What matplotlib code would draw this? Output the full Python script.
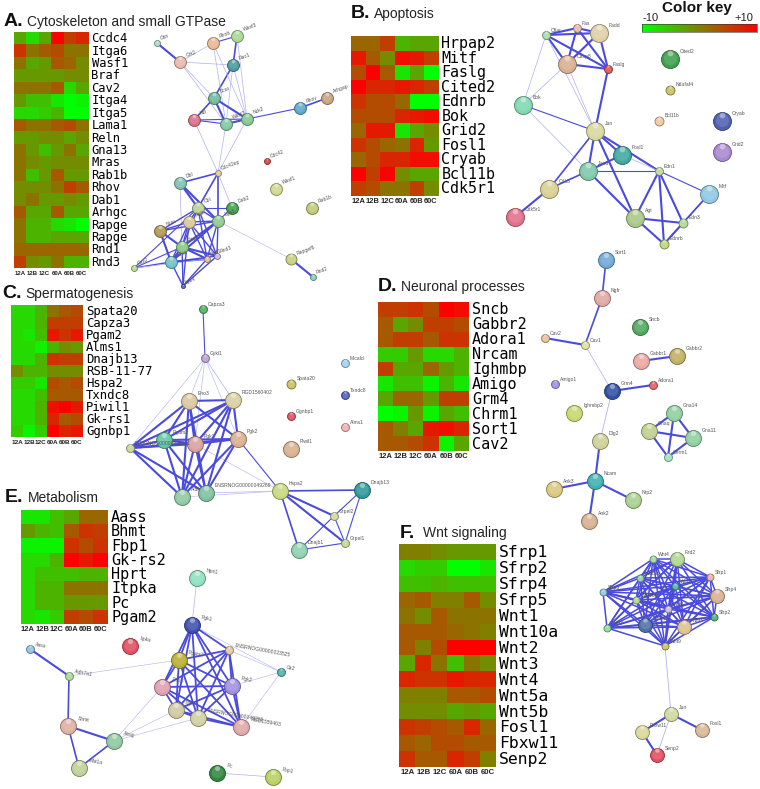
#!/usr/bin/env python3
import numpy as np
import matplotlib
matplotlib.use("Agg")
import matplotlib.pyplot as plt
from matplotlib.colors import LinearSegmentedColormap, to_rgb
from itertools import combinations

samples = ["12A", "12B", "12C", "60A", "60B", "60C"]

# heatmaps: log2-ish expression
genes_a = ["Ccdc4", "Itga6", "Wasf1", "Braf", "Cav2", "Itga4", "Itga5", "Lama1", "Reln", "Gna13",
           "Mras", "Rab1b", "Rhov", "Dab1", "Arhgc", "Rapge", "Rapge", "Rnd1", "Rnd3"]
heat_a = [[-3, -7, -3, 10, 5, 7], [6, 1, 3, 4, 1, 1], [1, -3, -2, 3, 2, -1], [-2, -2, -2, -2, -1, -1],
          [1, 1, 1, 3, -7, -3], [-2, -5, -5, -8, -10, -9], [-7, -7, -6, -4, -10, -10], [3, 1, 1, 3, 4, 1],
          [-2, -2, -1, -1, -3, -1], [1, -2, -5, -2, 1, -3], [1, -1, -2, -1, -1, -1], [1, -5, -2, 3, -2, -2],
          [-1, -1, -1, 1, 5, 3], [-1, 1, -2, -2, -1, -2], [3, -3, -3, 3, -3, -3], [1, -4, -4, -7, -8, -10],
          [1, -4, -4, -3, -3, -3], [2, 2, 2, 2, 2, 2], [5, -1, -2, 1, -4, -4]]

genes_b = ["Hrpap2", "Mitf", "Faslg", "Cited2", "Ednrb", "Bok", "Grid2", "Fosl1", "Cryab", "Bcl11b", "Cdk5r1"]
heat_b = [[2, 2, 5, -4, -3, -3], [8, 3, -1, 9, 8, 5], [4, 10, 3, -8, -3, -10], [10, 7, 7, 8, 7, 5],
          [6, 4, 4, 2, -10, -10], [4, 4, 4, 7, 8, 9], [2, 8, 8, -8, -3, -1], [6, 4, 2, 1, 7, -2],
          [2, 4, 7, 7, 9, 9], [10, 5, 10, -1, -3, -3], [5, 4, 1, 1, 5, -1]]

genes_c = ["Spata20", "Capza3", "Pgam2", "Alms1", "Dnajb13", "RSB-11-77", "Hspa2", "Txndc8", "Piwil1", "Gk-rs1", "Ggnbp1"]
heat_c = [[-7, -7, -4, 1, 3, 4], [-7, -7, -4, 5, 5, 5], [-7, -8, -5, 8, 6, 8], [-7, -7, -9, -4, -1, -2],
          [-7, -7, -4, 6, 5, 5], [-1, -4, -4, -1, -1, -1], [-6, -6, -8, 4, 3, 4], [-7, -7, -5, 3, 3, 3],
          [-7, -7, -4, 9, 10, 8], [-7, -7, -4, 7, 3, 4], [-6, -9, -6, 10, 7, 8]]

genes_d = ["Sncb", "Gabbr2", "Adora1", "Nrcam", "Ighmbp", "Amigo", "Grm4", "Chrm1", "Sort1", "Cav2"]
heat_d = [[5, 5, 6, 4, 10, 9], [3, -3, -1, 5, 5, 4], [3, 5, 5, 3, 6, 6], [-6, -6, -2, -7, -7, -4],
          [5, -3, -3, 2, -2, -4], [-8, -5, -5, -9, -4, -8], [-3, 2, 2, -2, 5, 5], [-10, -9, -2, -9, -3, -5],
          [3, 0, -3, 8, 9, 7], [3, 3, 4, 6, -9, -3]]

genes_e = ["Aass", "Bhmt", "Fbp1", "Gk-rs2", "Hprt", "Itpka", "Pc", "Pgam2"]
heat_e = [[-8, -8, -5, -3, 2, 2], [-2, -4, -5, 3, 6, 5], [-9, -9, -9, 6, 4, 6], [-7, -7, -4, 10, 8, 10],
          [-7, -5, -5, -5, -4, -4], [-7, -4, -4, 1, 1, 1], [-7, -4, -4, -2, -2, -2], [-7, -8, -6, 5, 4, 6]]

genes_f = ["Sfrp1", "Sfrp2", "Sfrp4", "Sfrp5", "Wnt1", "Wnt10a", "Wnt2", "Wnt3", "Wnt4", "Wnt5a", "Wnt5b",
           "Fosl1", "Fbxw11", "Senp2"]
heat_f = [[0, 0, -1, -2, -2, -2], [-7, -6, -6, -10, -10, -8], [-5, -5, -4, -5, -5, -5], [2, 3, 0, 0, 3, -1],
          [1, -1, 3, 1, 1, 1], [3, 3, 3, 2, 1, 0], [3, 0, 4, 10, 10, 10], [-3, 7, 1, -5, 1, -1],
          [7, 6, 6, 8, 7, 7], [0, 0, 0, 3, 3, 4], [-1, -1, -1, -3, -2, -3], [6, 5, 4, 3, 7, 2],
          [3, 2, 4, 4, 3, 3], [6, 3, 3, 7, 5, 0]]

# networks: name, x, y, radius (px), colour
net_a = [("Cttn", 157, 43, 3, "#a8dcc8"), ("Crk2", 180, 62, 6, "#e8b8a8"), ("Rhob", 213, 43, 6, "#eab890"),
         ("Wasf3", 237, 36, 6, "#a8d890"), ("Rac1", 233, 65, 6, "#4a9aa0"), ("Bcar", 214, 98, 6, "#70b8a0"),
         ("Ncl", 194, 120, 6, "#d87088"), ("Wasf2", 226, 124, 6, "#80c8a0"), ("Nck2", 247, 119, 6, "#80c890"),
         ("Rhov", 300, 108, 6, "#60a8c8"), ("Arhgap", 327, 98, 6, "#c8a080"), ("Cdc42", 267, 161, 3, "#d84040"),
         ("Cdc42ep", 218, 173, 3, "#e0c890"), ("Dbl", 180, 183, 6, "#80c0b0"), ("Wasf1", 276, 189, 6, "#d0d890"),
         ("Rab1b", 312, 208, 6, "#c0c878"), ("Dab2", 232, 208, 6, "#40a050"), ("Cbl", 198, 208, 6, "#b8d098"),
         ("Reln", 189, 222, 6, "#d8c898"), ("Itga5", 218, 221, 6, "#90c890"), ("Nras", 160, 231, 6, "#b09850"),
         ("Rap1", 182, 247, 6, "#88c880"), ("Mras", 171, 262, 6, "#70c0c8"), ("Cav2", 134, 268, 3, "#b8d888"),
         ("Rnd1", 207, 259, 3, "#e0c098"), ("Rnd3", 217, 256, 3, "#c8b8e0"), ("Rapgef6", 291, 259, 5.5, "#c8cf80"),
         ("Rnd2", 313, 277, 3, "#80d0c0"), ("Itga4", 183, 286, 2, "#5060c0")]
edges_a = [("Cttn", "Crk2", 1.5), ("Crk2", "Rhob", .5), ("Rhob", "Wasf3", .8), ("Wasf3", "Rac1", 1.2),
           ("Crk2", "Rac1", .5), ("Rac1", "Bcar", 1.2), ("Crk2", "Bcar", .5), ("Crk2", "Wasf2", .5),
           ("Rhob", "Wasf2", .5), ("Rhob", "Nck2", .5), ("Wasf3", "Nck2", .5), ("Rac1", "Wasf2", .5),
           ("Rac1", "Nck2", .5), ("Bcar", "Ncl", 1.2), ("Bcar", "Wasf2", 1.5), ("Bcar", "Nck2", 1.5),
           ("Ncl", "Wasf2", .8), ("Ncl", "Nck2", .8), ("Wasf2", "Nck2", 1.5), ("Nck2", "Rhov", .8),
           ("Rhov", "Arhgap", 1.2), ("Ncl", "Cdc42ep", .5), ("Wasf2", "Cdc42ep", .5), ("Nck2", "Cdc42ep", .5),
           ("Cdc42ep", "Dbl", 1.2), ("Cdc42ep", "Cbl", 1.2), ("Cdc42ep", "Itga5", 1.2), ("Cdc42ep", "Dab2", .5),
           ("Dbl", "Cbl", 1.5), ("Dbl", "Itga5", 1.5), ("Dbl", "Rap1", .5), ("Cbl", "Dab2", .8),
           ("Cbl", "Itga5", 1), ("Cbl", "Reln", 1), ("Cbl", "Nras", 1), ("Cbl", "Rap1", 1), ("Cbl", "Rnd1", 1),
           ("Cbl", "Rnd3", 1), ("Reln", "Itga5", 1), ("Reln", "Nras", 1), ("Reln", "Rap1", 1), ("Reln", "Mras", 1),
           ("Reln", "Rnd1", 1), ("Reln", "Rnd3", 1), ("Dab2", "Itga5", .8), ("Itga5", "Nras", 1), ("Itga5", "Rap1", 1.5),
           ("Itga5", "Mras", 1.5), ("Itga5", "Rnd1", 1), ("Itga5", "Rnd3", 1), ("Nras", "Rap1", 1.5), ("Nras", "Mras", 1.5),
           ("Rap1", "Mras", 1.5), ("Rap1", "Rnd1", 1.5), ("Rap1", "Rnd3", 1.5), ("Mras", "Rnd1", 1.5), ("Mras", "Rnd3", 1),
           ("Cav2", "Mras", 1), ("Cav2", "Rap1", .8), ("Cav2", "Cbl", .8), ("Cav2", "Rnd1", .5),
           ("Itga4", "Rap1", 1), ("Itga4", "Mras", 1), ("Itga4", "Rnd1", 1), ("Itga4", "Rnd3", 1), ("Itga4", "Reln", 1),
           ("Itga5", "Rapgef6", .4), ("Rapgef6", "Rnd2", 1.5)]

net_b = [("Cflar", 546, 35, 4, "#a8dcb0"), ("Fas", 577, 28, 4, "#e8b8a8"), ("Fadd", 599, 33, 9, "#e0d0a8"),
         ("Casp8", 567, 64, 9, "#d8b090"), ("Faslg", 608, 69, 4, "#e05050"), ("Cited2", 670, 59, 9, "#40a050"),
         ("Ndufaf4", 670, 90, 4.5, "#c8c060"), ("Bcl11b", 659, 121, 4.5, "#f0c8a0"), ("Bok", 523, 105, 9, "#80d8b0"),
         ("Jun", 595, 131, 9, "#d8d8a0"), ("Fosl1", 622, 155, 9, "#40a8a0"), ("Cryab", 722, 121, 9, "#5060b0"),
         ("Grid2", 722, 152, 9, "#a888d0"), ("Jund", 588, 171, 9, "#80c8a8"), ("Edn1", 659, 171, 4, "#c0d8a0"),
         ("Cdk5", 549, 189, 9, "#d8d090"), ("Mitf", 709, 194, 9, "#90c8e0"), ("Cdk5r1", 515, 217, 9, "#e07088"),
         ("Agt", 635, 218, 9, "#a8c888"), ("Edn3", 683, 223, 4.5, "#b0d890"), ("Ednrb", 664, 244, 4.5, "#b8d878")]
edges_b = [("Cflar", "Fas", 1.5), ("Cflar", "Fadd", 1.5), ("Cflar", "Casp8", 1.5), ("Cflar", "Faslg", 1.5),
           ("Fas", "Fadd", 1.5), ("Fas", "Casp8", 1.5), ("Fas", "Faslg", 1.5), ("Fadd", "Casp8", 1.5),
           ("Fadd", "Faslg", 1.5), ("Casp8", "Faslg", 1.5), ("Faslg", "Jun", 1.5), ("Cflar", "Bok", .5),
           ("Casp8", "Bok", .5), ("Casp8", "Jun", .5), ("Cflar", "Jun", .5), ("Bok", "Jun", .8), ("Bok", "Jund", .5),
           ("Jun", "Fosl1", 1.5), ("Jun", "Jund", 1.5), ("Jun", "Cdk5", 1.2), ("Jun", "Edn1", 1.5), ("Jun", "Agt", 1.5),
           ("Fosl1", "Jund", 1.5), ("Fosl1", "Edn1", .5), ("Jund", "Edn1", .8), ("Jund", "Cdk5", 1.2), ("Jund", "Agt", 1.5),
           ("Cdk5", "Cdk5r1", 1.5), ("Edn1", "Mitf", .8), ("Edn1", "Agt", 1.5), ("Edn1", "Edn3", 1.5), ("Edn1", "Ednrb", 1.5),
           ("Mitf", "Edn3", 1.2), ("Mitf", "Ednrb", .8), ("Agt", "Edn3", 1.5), ("Agt", "Ednrb", 1.5), ("Edn3", "Ednrb", 1.5)]

net_c = [("Capza3", 203, 309, 4, "#50b060"), ("Gykl1", 205, 358, 4, "#b8a0d8"), ("Eno3", 189, 401, 8, "#d8c8a0"),
         ("RGD1560402", 233, 400, 8, "#d8d0a0"), ("Pgam2", 164, 440, 8, "#60c8a0"), ("Pgk1", 195, 444, 8, "#d8a0a0"),
         ("Pgk2", 238, 439, 8, "#d8b090"), ("ENSRNOG00000027311", 130, 448, 4, "#c8d898"), ("Aldh", 182, 497, 8, "#90c8a0"),
         ("ENSRNOG00000049269", 206, 493, 8, "#80c0a0"), ("Hspa2", 280, 491, 8, "#c8d880"), ("Dnajb13", 362, 490, 8, "#309898"),
         ("Grpel2", 334, 516, 4, "#d0d898"), ("Grpel1", 345, 543, 4, "#c0d890"), ("Dnajb1", 299, 550, 8, "#90d0b0"),
         ("Spata20", 291, 384, 4.5, "#c8c060"), ("Ggnbp1", 291, 416, 4, "#e05060"), ("Piwil1", 291, 449, 8, "#d8b090"),
         ("Micalcl", 345, 363, 4, "#a0d0f0"), ("Txndc8", 345, 395, 4, "#5060c0"), ("Alms1", 345, 427, 4, "#f0b0b0")]
hub_c = ["Eno3", "RGD1560402", "Pgam2", "Pgk1", "Pgk2", "ENSRNOG00000027311", "Aldh", "ENSRNOG00000049269"]
edges_c = [("Capza3", "Gykl1", .8), ("Gykl1", "RGD1560402", .5), ("Gykl1", "Eno3", .4), ("Gykl1", "Pgk1", .4),
           ("Gykl1", "ENSRNOG00000027311", .4), ("Gykl1", "Pgk2", .4), ("Pgk2", "Hspa2", .8), ("Pgk1", "Hspa2", .4),
           ("ENSRNOG00000049269", "Hspa2", .5), ("Aldh", "Hspa2", .4), ("Hspa2", "Dnajb13", 1.2), ("Hspa2", "Grpel2", 1.5),
           ("Hspa2", "Grpel1", 1.5), ("Hspa2", "Dnajb1", 1.2), ("Dnajb13", "Grpel2", .8), ("Dnajb13", "Grpel1", .8),
           ("Grpel2", "Grpel1", .8), ("Grpel2", "Dnajb1", .8), ("Grpel1", "Dnajb1", .8)]
edges_c += [(a, b, 1.5) for a, b in combinations(hub_c, 2) if {a, b} != {"Aldh", "ENSRNOG00000049269"}]

net_d = [("Sort1", 606, 260, 8, "#70a8d8"), ("Ngfr", 602, 298, 8, "#e0a8a0"), ("Sncb", 640, 327, 8, "#50a860"),
         ("Cav2", 545, 338, 4, "#e8c090"), ("Cav1", 585, 345, 4, "#e0e0a0"), ("Gabbr1", 641, 361, 8, "#e8a8a0"),
         ("Gabbr2", 677, 356, 8, "#c0b060"), ("Amigo1", 555, 384, 4, "#a090e0"), ("Grm4", 612, 391, 8, "#3050a0"),
         ("Adora1", 653, 385, 4, "#e06060"), ("Ighmbp2", 574, 413, 8, "#c8d870"), ("Gna14", 674, 413, 8, "#90d0a0"),
         ("Gnaq", 649, 431, 8, "#c0d090"), ("Gna11", 693, 438, 8, "#90d0a0"), ("Chrm1", 668, 457, 4, "#a0e0c0"),
         ("Dlg2", 600, 441, 8, "#d0d098"), ("Ncam", 595, 481, 8, "#40b0b0"), ("Ank3", 554, 489, 8, "#d8c880"),
         ("Nrp2", 633, 500, 8, "#a8d090"), ("Ank2", 589, 521, 8, "#d8b090")]
edges_d = [("Sort1", "Ngfr", 1.2), ("Ngfr", "Cav1", 1.2), ("Cav1", "Cav2", 1.5), ("Cav1", "Grm4", .5),
           ("Grm4", "Adora1", 1.5), ("Grm4", "Dlg2", .6), ("Dlg2", "Ncam", 1.5), ("Ncam", "Ank3", 1.5),
           ("Ncam", "Nrp2", 1.5), ("Ncam", "Ank2", 1.5), ("Gabbr1", "Gabbr2", 1.5), ("Gna14", "Gnaq", 1.5),
           ("Gna14", "Gna11", 1.5), ("Gna14", "Chrm1", 1.5), ("Gnaq", "Gna11", 1.5), ("Gnaq", "Chrm1", 1.5),
           ("Gna11", "Chrm1", 1.5)]

net_e = [("Hprt1", 197, 578, 8, "#90e0c0"), ("Pgk1", 192, 625, 8, "#4050b0"), ("Itpka", 130, 646, 8, "#e05060"),
         ("Aass", 30, 649, 4, "#90c0e0"), ("Aldh7a1", 69, 676, 4, "#a8d890"), ("Pgam2", 179, 660, 8, "#b8b030"),
         ("ENSRNOG00000023525", 229, 650, 4, "#e8c8a0"), ("Gk2", 281, 672, 4, "#50b0b0"), ("Eno3", 162, 687, 8, "#e0a0b0"),
         ("Pgk2", 232, 686, 8, "#a090e0"), ("Bhmt", 68, 726, 8, "#e0b0a0"), ("Ahsg", 114, 741, 8, "#90c8a0"),
         ("Mat1a", 79, 768, 8, "#c0d098"), ("Pgls", 176, 710, 8, "#d0c8a0"), ("ENSRNOG00000049269", 198, 718, 8, "#d0d0a0"),
         ("RGD1559403", 241, 727, 8, "#e0a8a8"), ("Pc", 217, 773, 8, "#308840"), ("Fbp1", 273, 777, 8, "#b8d060")]
hub_e = ["Pgk1", "Pgam2", "ENSRNOG00000023525", "Eno3", "Pgk2", "Pgls", "ENSRNOG00000049269", "RGD1559403"]
edges_e = [("Hprt1", "Pgk1", .5), ("Aass", "Aldh7a1", 1.5), ("Aldh7a1", "Pgam2", .4), ("Aldh7a1", "Bhmt", 1.2),
           ("Bhmt", "Ahsg", 1.5), ("Bhmt", "Mat1a", 1.2), ("Ahsg", "Mat1a", 1.2), ("Ahsg", "Eno3", .4),
           ("Ahsg", "Pgls", .4), ("Ahsg", "ENSRNOG00000049269", .4), ("ENSRNOG00000023525", "Gk2", .4),
           ("Pgk1", "Gk2", .4), ("Pgk2", "Gk2", .4), ("RGD1559403", "Gk2", .4), ("Pc", "Fbp1", .5)]
edges_e += [(a, b, 1.3) for a, b in combinations(hub_e, 2)]

net_f = [("Wnt4", 653, 559, 3.5, "#a0d8a0"), ("Fzd2", 677, 559, 7, "#b0d890"), ("Sfrp1", 710, 577, 3.5, "#e8b0a0"),
         ("Sfrp4", 717, 596, 7, "#d8b090"), ("Sfrp2", 714, 617, 3.5, "#50b070"), ("Wnt5a", 640, 578, 3.5, "#90d0b0"),
         ("Sfrp5", 603, 592, 3.5, "#90c8e0"), ("Wnt2", 675, 586, 3.5, "#50b0b0"), ("Wnt10a", 636, 600, 3.5, "#b0d890"),
         ("Wnt1", 668, 609, 3.5, "#c8b8e0"), ("Wnt5b", 645, 625, 7, "#5070a8"), ("Wnt3", 684, 627, 7, "#e0c090"),
         ("Wnt7", 607, 628, 3.5, "#90d8a0"), ("Wnt9", 665, 646, 3.5, "#c8c060"), ("Jun", 671, 714, 7, "#d0d8a0"),
         ("Fbxw11", 642, 732, 7, "#d8d898"), ("Fosl1", 702, 730, 7, "#d8b898"), ("Senp2", 657, 755, 7, "#e05060")]
hub_f = [n[0] for n in net_f[:14]]
edges_f = [("Wnt9", "Jun", .6), ("Jun", "Fbxw11", 1.5), ("Jun", "Fosl1", 1.5), ("Jun", "Senp2", .6), ("Fbxw11", "Senp2", 1.5)]
edges_f += [(a, b, 1.1) for a, b in combinations(hub_f, 2)]

cmap = LinearSegmentedColormap.from_list("key", ["#00ff00", "#808000", "#ff0000"])

fig = plt.figure(figsize=(7.6, 7.89), dpi=100)
ax = fig.add_axes([0, 0, 1, 1])
ax.axis("off")
plt.rcParams["font.family"] = ["Liberation Sans", "DejaVu Sans"]


def heatmap(genes, vals, x0, x1, y0, y1, gene_size, tick_size):
    ax.imshow(np.array(vals, float), cmap=cmap, vmin=-10, vmax=10, extent=(x0, x1, y1, y0),
              aspect="auto", interpolation="nearest", zorder=2)
    dy = (y1 - y0) / len(genes)
    for i, g in enumerate(genes):
        ax.text(x1 + 3.5, y0 + dy * (i + .5) + .5, g, family="DejaVu Sans Mono", fontsize=gene_size,
                va="center", ha="left", color="black", zorder=5)
    dx = (x1 - x0) / 6
    for i, s in enumerate(samples):
        ax.text(x0 + dx * (i + .5), y1 + 5.5, s, fontsize=tick_size, weight="bold", ha="center", va="center",
                color="#222222", zorder=5)


def network(nodes, edges, rot=0):
    pos = {n[0]: n[1:3] for n in nodes}
    for a, b, w in edges:
        col = "#4a4adc" if w >= .8 else "#b0b0f0"
        ax.plot([pos[a][0], pos[b][0]], [pos[a][1], pos[b][1]], color=col, lw=w, zorder=3, solid_capstyle="round")
    for name, x, y, r, c in nodes:
        d = 2 * r * .72
        dark = tuple(v * .62 for v in to_rgb(c))
        ax.scatter([x], [y], s=d ** 2, color=c, edgecolors=dark, linewidths=.6, zorder=4)
        ax.scatter([x], [y - r * .1], s=(d * .72) ** 2, color="white", alpha=.12, linewidths=0, zorder=4.1)
        ax.scatter([x], [y - r * .68], s=(d * .32) ** 2, color="white", alpha=.4, linewidths=0, zorder=4.2)
        ax.text(x + r + 1, y - r * .6, name, fontsize=3.6, color="#555555", rotation=rot,
                rotation_mode="anchor", ha="left", va="bottom", zorder=5)


heatmap(genes_a, heat_a, 13.7, 88, 32, 268, 8.7, 4.3)
heatmap(genes_b, heat_b, 350.7, 438, 36, 195.7, 10.8, 5.4)
heatmap(genes_c, heat_c, 11, 82.7, 305, 436.7, 8.8, 4.6)
heatmap(genes_d, heat_d, 378.3, 468.7, 302, 451, 10.9, 5.4)
heatmap(genes_e, heat_e, 20.7, 107.7, 510, 624, 10.9, 5.4)
heatmap(genes_f, heat_f, 399.3, 495.7, 544.3, 767.3, 11.8, 5.6)

network(net_a, edges_a, rot=20)
network(net_b, edges_b)
network(net_c, edges_c)
network(net_d, edges_d)
network(net_e, edges_e, rot=-10)
network(net_f, edges_f)

# panel titles
titles = [("A.", "Cytoskeleton and small GTPase", 4, 21), ("B.", "Apoptosis", 351, 13),
          ("C.", "Spermatogenesis", 2, 293), ("D.", "Neuronal processes", 378, 286),
          ("E.", "Metabolism", 5, 497), ("F.", "Wnt signaling", 400, 533)]
for letter, title, x, y in titles:
    ax.text(x, y, letter, fontsize=14, weight="bold", ha="left", va="center", color="#111111", zorder=6)
    ax.text(x + 23, y + .5, title, fontsize=10, ha="left", va="center", color="#222222", zorder=6)

# colour key
ax.imshow(np.linspace(-10, 10, 256).reshape(1, -1), cmap=cmap, vmin=-10, vmax=10, extent=(642, 757, 32, 24),
          aspect="auto", zorder=2)
ax.plot([642, 757, 757, 642, 642], [24, 24, 32, 32, 24], color="#333333", lw=.4, zorder=3)
ax.text(697, 8, "Color key", fontsize=11, weight="bold", ha="center", va="center", color="#111111")
ax.text(651, 18, "-10", fontsize=8, ha="center", va="center", color="#222222")
ax.text(744, 18, "+10", fontsize=8, ha="center", va="center", color="#222222")

ax.set_xlim(0, 760)
ax.set_ylim(789, 0)
fig.savefig("out.png", dpi=100)
